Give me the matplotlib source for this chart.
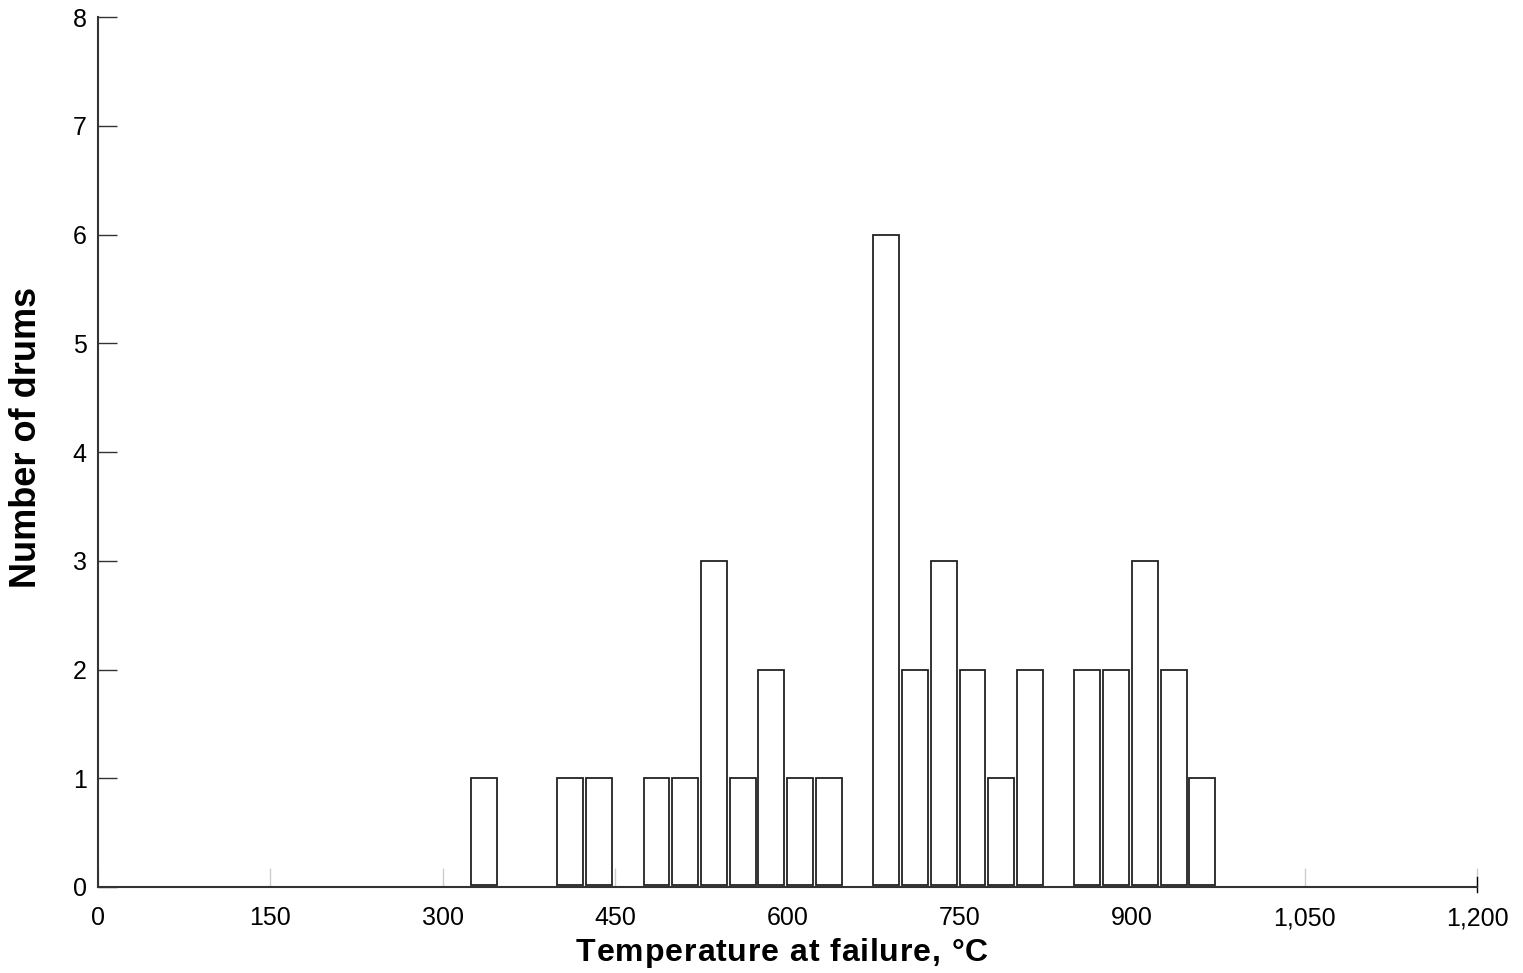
import matplotlib.pyplot as plt

plt.rcParams['font.family'] = ['Liberation Sans', 'DejaVu Sans']

# bin centres (deg C) and counts
temps = [336, 411, 436, 486, 511, 536, 561, 586, 611, 636,
         686, 711, 736, 761, 786, 811, 861, 886, 911, 936, 961]
counts = [1, 1, 1, 1, 1, 3, 1, 2, 1, 1,
          6, 2, 3, 2, 1, 2, 2, 2, 3, 2, 1]
xticks = [0, 150, 300, 450, 600, 750, 900, 1050, 1200]
xlabels = ['0', '150', '300', '450', '600', '750', '900', '1,050', '1,200']
xtitle = 'Temperature at failure, °C'
ytitle = 'Number of drums'

W, H = 1523, 973
fig = plt.figure(figsize=(W / 100, H / 100), dpi=100)
ax = fig.add_axes([0.0643, 0.0884, 0.9055, 0.894])

base = 0.02
ax.bar(temps, [c - base for c in counts], bottom=base, width=22.5,
       color='white', edgecolor='#222222', linewidth=1.3, zorder=3)

ax.set_xlim(0, 1200)
ax.set_ylim(0, 8)
ax.set_xticks(xticks)
ax.set_xticklabels(xlabels)
ax.set_yticks(range(9))

for s in ['top', 'right']:
    ax.spines[s].set_visible(False)
for s in ['left', 'bottom']:
    ax.spines[s].set_color('#333333')
    ax.spines[s].set_linewidth(1.5)

ax.tick_params(axis='y', direction='in', length=14, width=1, color='#333333',
               labelsize=18, pad=8)
ax.tick_params(axis='x', direction='in', length=14, width=1, color='#cccccc',
               labelsize=18, pad=14)
# last x tick drawn black, crossing the axis
ax.xaxis.get_major_ticks()[-1].tick1line.set_color('black')
ax.axvline(1200, ymin=-0.006, ymax=0.012, color='black', lw=1, clip_on=False)


# x title is slightly letter-spaced in the original, so place it char by char
def spaced_text(s, cx, base_y, size, gap):
    r = fig.canvas.get_renderer()

    def width(txt):
        t = fig.text(0, 0, txt, fontsize=size, fontweight='bold')
        w = t.get_window_extent(r).width
        t.remove()
        return w

    ref = width('xx')
    ws = [width('x' + c + 'x') - ref for c in s]
    x = cx - (sum(ws) + gap * (len(s) - 1)) / 2
    for c, w in zip(s, ws):
        fig.text(x / W, base_y / H, c, fontsize=size, fontweight='bold',
                 ha='left', va='baseline')
        x += w + gap


spaced_text(xtitle, 782, H - 961, 23, 0.9)
fig.text(27 / W, 1 - 437.5 / H, ytitle, rotation=90, fontsize=26,
         fontweight='bold', ha='center', va='center')

fig.savefig('out.png', dpi=100)
